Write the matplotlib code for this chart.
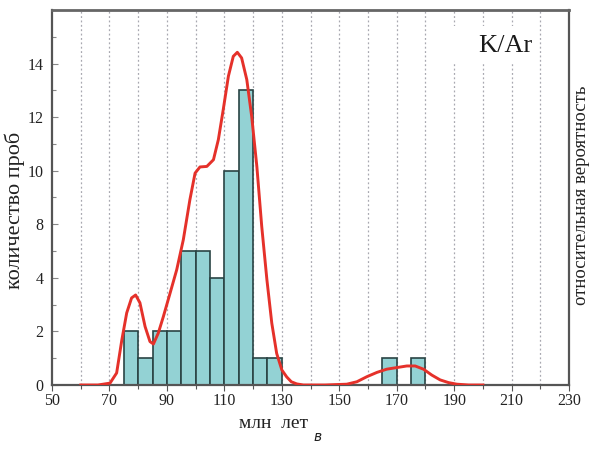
import numpy as np
import matplotlib
matplotlib.use('Agg')
import matplotlib.pyplot as plt
from matplotlib.ticker import MultipleLocator
from matplotlib.patches import Rectangle

# histogram bins (left edge, million years) and bar heights as drawn
bin_left = [75, 80, 85, 90, 95, 100, 105, 110, 115, 120, 125, 165, 175]
counts = [2, 1, 2, 2, 5, 5, 4, 8, 11, 1, 1, 1, 1]
bin_w = 5

# probability curve
curve_x = [60, 66, 70.2, 72.5, 74.3, 76.0, 77.7, 79.1, 80.6, 82.4, 84.1, 85.3, 87.0,
           88.75, 91.1, 93.4, 95.7, 98.0, 99.8, 101.5, 103.9, 106.2, 107.9, 109.6,
           111.4, 113.1, 114.5, 116.0, 117.8, 119.5, 121.3, 123.0, 124.8, 126.5,
           128.2, 130.0, 131.7, 133.3, 135.2, 137.5, 145, 152.6, 156.1, 159.6, 163.1,
           166.5, 170.0, 173.5, 176.4, 179.3, 182.2, 185.1, 188.0, 190.9, 195, 200]
curve_y = [0, 0, 0.07, 0.45, 1.68, 2.69, 3.25, 3.36, 3.07, 2.18, 1.62, 1.53, 1.94,
           2.55, 3.43, 4.30, 5.42, 6.92, 7.91, 8.14, 8.16, 8.41, 9.16, 10.28,
           11.53, 12.27, 12.42, 12.21, 11.40, 10.03, 8.16, 5.92, 3.93, 2.31,
           1.18, 0.56, 0.30, 0.12, 0.04, 0, 0, 0.03, 0.12, 0.31, 0.47,
           0.59, 0.65, 0.71, 0.71, 0.59, 0.37, 0.19, 0.09, 0.03, 0, 0]

ytick_pos = [0, 2, 4, 6, 8, 10, 12]
ytick_lab = ['0', '2', '4', '8', '10', '12', '14']
xticks = list(range(50, 231, 20))

plt.rcParams['font.family'] = ['Liberation Serif', 'DejaVu Serif']

fig = plt.figure(figsize=(5.91, 4.54), dpi=100)
ax = fig.add_axes([0.088, 0.152, 0.875, 0.826])

for x in range(60, 230, 10):
    ax.axvline(x, color='#a8a8b0', ls=(0, (1.5, 2)), lw=0.9, zorder=0)

ax.bar(bin_left, counts, width=bin_w, align='edge', color='#93d2d4',
       edgecolor='#2a4444', linewidth=1.2, zorder=2)
ax.plot(curve_x, curve_y, color='#e5312a', lw=2.1, zorder=3)

ax.set_xlim(50, 230)
ax.set_ylim(0, 14)
ax.set_xticks(xticks)
ax.xaxis.set_minor_locator(MultipleLocator(10))
ax.set_yticks(ytick_pos)
ax.set_yticklabels(ytick_lab)
ax.yaxis.set_minor_locator(MultipleLocator(1))
ax.tick_params(axis='x', which='major', direction='out', length=4, width=0.8,
               colors='#555555', labelcolor='#222222', labelsize=11.5, pad=2)
ax.tick_params(axis='x', which='minor', direction='out', length=3, width=0.8, colors='#555555')
ax.tick_params(axis='y', which='major', direction='in', length=4, width=0.8,
               colors='#888888', labelcolor='#222222', labelsize=11.5, pad=6)
ax.tick_params(axis='y', which='minor', direction='in', length=3, width=0.8, colors='#888888')

for side in ['left', 'bottom', 'right']:
    ax.spines[side].set_color('#555555')
    ax.spines[side].set_linewidth(1.6)
ax.spines['top'].set_color('#666666')
ax.spines['top'].set_linewidth(2.0)

# white patch behind the label (hides the grid there)
ax.add_patch(Rectangle((187, 12.0), 31, 1.4, facecolor='white', edgecolor='none', zorder=1))
ax.text(0.93, 0.903, 'K/Ar', transform=ax.transAxes, fontsize=19, ha='right', va='center',
        color='#1a1a1a', zorder=5)

fig.text(0.025, 0.537, 'количество проб', rotation=90, fontsize=16,
         ha='center', va='center', color='#222222')
fig.text(0.984, 0.570, 'относительная вероятность', rotation=90, fontsize=13.5,
         ha='center', va='center', color='#222222')
fig.text(0.462, 0.068, 'млн  лет', fontsize=14, ha='center', va='center', color='#222222')
fig.text(0.538, 0.037, 'в', fontsize=10, style='italic', ha='center', va='center',
         family='DejaVu Sans', color='#222222')

fig.savefig('out.png', dpi=100)
